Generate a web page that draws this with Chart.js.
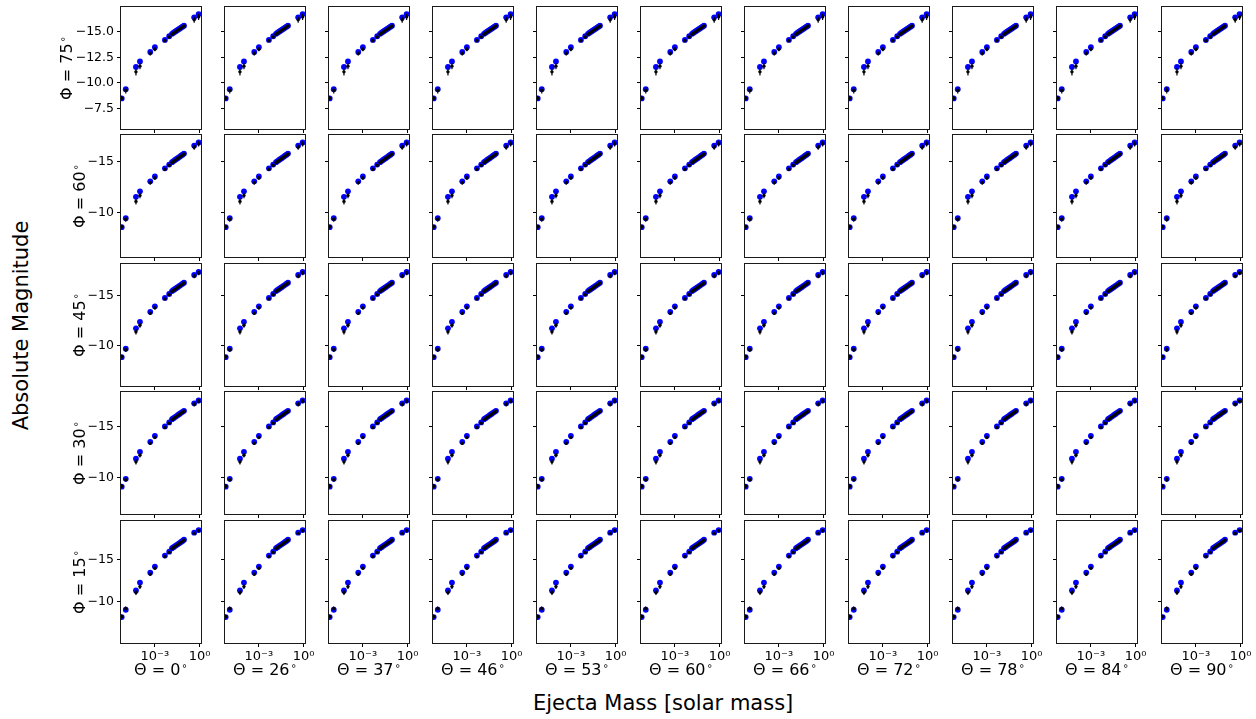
<!DOCTYPE html>
<html>
<head>
<meta charset="utf-8">
<script src="https://cdn.jsdelivr.net/npm/chart.js@4.4.1/dist/chart.umd.min.js"></script>
<style>
  html, body { margin: 0; padding: 0; background: #fff; }
  #fig { position: relative; width: 1256px; height: 719px; overflow: hidden; background: #fff; font-family: 'DejaVu Sans', sans-serif; color: #000; }
  #fig canvas { position: absolute; }
  .lbl { position: absolute; white-space: nowrap; line-height: 1; }
  .deg { font-size: 0.62em; position: relative; top: -0.62em; margin-left: 0.12em; }
</style>
</head>
<body>
<div id="fig"></div>
<script>
// ---------------- data ----------------
const thetaAngles = [0, 26, 37, 46, 53, 60, 66, 72, 78, 84, 90];
const phiAngles = [75, 60, 45, 30, 15];

// ejecta mass grid [solar mass]
const ejectaMass = [6.0e-6, 1.12e-5, 5.4e-5, 1.0e-4, 4.9e-4, 1.0e-3, 4.7e-3, 9.1e-3,
  0.0141, 0.0178, 0.0224, 0.0282, 0.0355, 0.0447, 0.0562, 0.0708, 0.0891, 0.43, 0.85];

// Phi = 75
const blueMag75  = [-8.47, -9.38, -11.57, -12.10, -13.04, -13.50, -14.22, -14.58, -14.82, -14.92, -15.02, -15.12, -15.22, -15.32, -15.42, -15.52, -15.62, -16.44, -16.76];
const blackMag75 = [-8.50, -9.26, -11.08, -11.64, -12.88, -13.30, -14.14, -14.50, -14.78, -14.88, -14.98, -15.08, -15.18, -15.28, -15.38, -15.48, -15.58, -16.20, -16.48];
const errMag75   = [0.15, 0.30, 0.35, 0.30, 0.20, 0.20, 0.12, 0.12, 0.08, 0.08, 0.08, 0.08, 0.08, 0.08, 0.08, 0.08, 0.08, 0.30, 0.30];
// Phi = 60
const blueMag60  = [-8.58, -9.46, -11.57, -12.11, -13.09, -13.58, -14.37, -14.74, -14.98, -15.09, -15.19, -15.30, -15.40, -15.50, -15.61, -15.71, -15.82, -16.61, -16.91];
const blackMag60 = [-8.62, -9.36, -11.12, -11.70, -12.95, -13.42, -14.28, -14.66, -14.94, -15.05, -15.15, -15.26, -15.36, -15.46, -15.57, -15.67, -15.78, -16.45, -16.78];
const errMag60   = [0.15, 0.25, 0.30, 0.28, 0.18, 0.18, 0.10, 0.10, 0.08, 0.08, 0.08, 0.08, 0.08, 0.08, 0.08, 0.08, 0.08, 0.25, 0.25];
// Phi = 45
const blueMag45  = [-8.85, -9.70, -11.75, -12.40, -13.40, -13.95, -14.80, -15.20, -15.48, -15.59, -15.69, -15.80, -15.90, -16.01, -16.11, -16.22, -16.33, -17.10, -17.40];
const blackMag45 = [-8.90, -9.60, -11.40, -12.05, -13.25, -13.80, -14.70, -15.12, -15.44, -15.55, -15.65, -15.76, -15.86, -15.97, -16.07, -16.18, -16.29, -16.98, -17.30];
const errMag45   = [0.15, 0.22, 0.28, 0.25, 0.16, 0.16, 0.10, 0.10, 0.08, 0.08, 0.08, 0.08, 0.08, 0.08, 0.08, 0.08, 0.08, 0.22, 0.22];
// Phi = 30
const blueMag30  = [-9.13, -9.90, -11.85, -12.52, -13.50, -14.08, -15.00, -15.39, -15.70, -15.80, -15.91, -16.01, -16.11, -16.21, -16.32, -16.42, -16.52, -17.25, -17.52];
const blackMag30 = [-9.18, -9.80, -11.55, -12.20, -13.35, -13.92, -14.90, -15.31, -15.66, -15.76, -15.87, -15.97, -16.07, -16.17, -16.28, -16.38, -16.48, -17.15, -17.45];
const errMag30   = [0.15, 0.20, 0.25, 0.22, 0.15, 0.15, 0.10, 0.10, 0.08, 0.08, 0.08, 0.08, 0.08, 0.08, 0.08, 0.08, 0.08, 0.20, 0.20];
// Phi = 15
const blueMag15  = [-8.19, -9.06, -11.34, -12.28, -13.46, -14.17, -15.47, -15.94, -16.34, -16.47, -16.60, -16.72, -16.84, -16.96, -17.08, -17.20, -17.35, -18.19, -18.50];
const blackMag15 = [-8.25, -9.20, -11.10, -11.80, -13.27, -13.98, -15.35, -15.85, -16.30, -16.43, -16.56, -16.68, -16.80, -16.92, -17.04, -17.16, -17.31, -18.10, -18.43];
const errMag15   = [0.15, 0.25, 0.30, 0.28, 0.18, 0.18, 0.12, 0.10, 0.08, 0.08, 0.08, 0.08, 0.08, 0.08, 0.08, 0.08, 0.08, 0.20, 0.20];

// axis ranges (top, bottom) and ticks
const yRange75 = [-17.45, -5.47];
const yRange60 = [-17.65, -5.65];
const yRange45 = [-18.20, -5.96];
const yRange30 = [-18.35, -6.47];
const yRange15 = [-19.57, -5.12];
const yTicks75 = [-15, -12.5, -10, -7.5];
const yTicksOther = [-15, -10];
const xRange = [Math.pow(10, -5.27), Math.pow(10, 0.09)];
const xTicks = [1e-3, 1];
const xTickLabels = ['10\u207B\u00B3', '10\u2070'];

// ---------------- layout ----------------
const rows = [
  { phi: phiAngles[0], blue: blueMag75, black: blackMag75, err: errMag75, yr: yRange75, yt: yTicks75, dec: 1 },
  { phi: phiAngles[1], blue: blueMag60, black: blackMag60, err: errMag60, yr: yRange60, yt: yTicksOther, dec: 0 },
  { phi: phiAngles[2], blue: blueMag45, black: blackMag45, err: errMag45, yr: yRange45, yt: yTicksOther, dec: 0 },
  { phi: phiAngles[3], blue: blueMag30, black: blackMag30, err: errMag30, yr: yRange30, yt: yTicksOther, dec: 0 },
  { phi: phiAngles[4], blue: blueMag15, black: blackMag15, err: errMag15, yr: yRange15, yt: yTicksOther, dec: 0 }
];

const PANEL_W = 80, PANEL_H = 122;
const AX_W = 50, AX_H = 30, PAD_T = 6, PAD_R = 16;
const colLeft = i => Math.round(120.5 + 104.1 * i);
const rowTop = j => Math.round(7 + 128.4 * j);

Chart.defaults.font.family = "'DejaVu Sans', sans-serif";
Chart.defaults.font.size = 12;
Chart.defaults.color = '#000';

const framePlugin = {
  id: 'frame',
  afterDraw(chart) {
    const a = chart.chartArea, ctx = chart.ctx;
    ctx.save();
    ctx.strokeStyle = '#1a1a1a';
    ctx.lineWidth = 1;
    ctx.strokeRect(a.left - 0.5, a.top - 0.5, a.right - a.left + 1, a.bottom - a.top + 1);
    ctx.restore();
  }
};

const fig = document.getElementById('fig');

function fmtY(v, dec) {
  return (v < 0 ? '\u2212' : '') + Math.abs(v).toFixed(dec);
}

rows.forEach((row, j) => {
  thetaAngles.forEach((theta, i) => {
    const cv = document.createElement('canvas');
    const W = AX_W + PANEL_W + PAD_R, H = PAD_T + PANEL_H + AX_H;
    cv.width = W; cv.height = H;
    cv.style.width = W + 'px'; cv.style.height = H + 'px';
    cv.style.left = (colLeft(i) - AX_W) + 'px';
    cv.style.top = (rowTop(j) - PAD_T) + 'px';
    fig.appendChild(cv);

    const bluePts = ejectaMass.map((m, k) => ({ x: m, y: row.blue[k] }));
    const blackPts = ejectaMass.map((m, k) => ({ x: m, y: row.black[k] }));
    const errPts = [];
    ejectaMass.forEach((m, k) => {
      errPts.push({ x: m, y: row.black[k] - row.err[k] });
      errPts.push({ x: m, y: row.black[k] + row.err[k] });
      errPts.push({ x: m, y: null });
    });

    const showYLabels = i === 0;
    const showXLabels = j === rows.length - 1;

    new Chart(cv, {
      type: 'scatter',
      data: {
        datasets: [
          { label: 'model', data: blackPts, order: 0, pointRadius: 1.7, pointBorderWidth: 0,
            pointBackgroundColor: '#000', backgroundColor: '#000', borderColor: '#000', clip: 0 },
          { label: 'err', data: errPts, order: 1, showLine: true, spanGaps: false, pointRadius: 0,
            borderColor: '#000', borderWidth: 1.2, clip: 0 },
          { label: 'fit', data: bluePts, order: 2, pointRadius: 2.9, pointBorderWidth: 0,
            pointBackgroundColor: '#0000ff', backgroundColor: '#0000ff', borderColor: '#0000ff', clip: 0 }
        ]
      },
      options: {
        responsive: false,
        animation: false,
        events: [],
        devicePixelRatio: 1,
        layout: { padding: { top: PAD_T, right: PAD_R, bottom: 0, left: 0 }, autoPadding: false },
        plugins: { legend: { display: false }, tooltip: { enabled: false } },
        scales: {
          x: {
            type: 'logarithmic',
            min: xRange[0], max: xRange[1],
            border: { display: false },
            grid: { display: true, drawOnChartArea: false, drawTicks: true, tickLength: 4, color: '#000', lineWidth: 1 },
            ticks: {
              padding: 2, maxRotation: 0, autoSkip: false,
              font: { size: 13 },
              callback: (v) => {
                if (!showXLabels) return '';
                const idx = xTicks.findIndex(t => Math.abs(Math.log10(t) - Math.log10(v)) < 1e-6);
                return idx >= 0 ? xTickLabels[idx] : '';
              }
            },
            afterBuildTicks: (ax) => { ax.ticks = xTicks.map(v => ({ value: v })); },
            afterFit: (ax) => { ax.height = AX_H; ax.paddingLeft = 0; ax.paddingRight = 0; }
          },
          y: {
            type: 'linear',
            reverse: true,
            min: row.yr[0], max: row.yr[1],
            border: { display: false },
            grid: { display: true, drawOnChartArea: false, drawTicks: true, tickLength: 4, color: '#000', lineWidth: 1 },
            ticks: {
              padding: 3, autoSkip: false,
              font: { size: 12.5 },
              callback: (v) => showYLabels ? fmtY(v, row.dec) : ''
            },
            afterBuildTicks: (ax) => { ax.ticks = row.yt.map(v => ({ value: v })); },
            afterFit: (ax) => { ax.width = AX_W; ax.paddingTop = 0; ax.paddingBottom = 0; }
          }
        }
      },
      plugins: [framePlugin]
    });
  });
});

// ---------------- text labels ----------------
function addLabel(html, cx, cy, size, rotate) {
  const d = document.createElement('div');
  d.className = 'lbl';
  d.innerHTML = html;
  d.style.fontSize = size + 'px';
  fig.appendChild(d);
  const w = d.offsetWidth, h = d.offsetHeight;
  d.style.left = (cx - w / 2) + 'px';
  d.style.top = (cy - h / 2) + 'px';
  if (rotate) d.style.transform = 'rotate(-90deg)';
}

rows.forEach((row, j) => {
  const cx = j === 0 ? 67 : 80;
  addLabel('\u03A6 = ' + row.phi + '<span class="deg">\u2218</span>', cx, rowTop(j) + PANEL_H / 2, 16, true);
});
thetaAngles.forEach((t, i) => {
  addLabel('\u0398 = ' + t + '<span class="deg">\u2218</span>', colLeft(i) + PANEL_W / 2, 670, 16, false);
});
addLabel('Absolute Magnitude', 22, 325, 21, true);
addLabel('Ejecta Mass [solar mass]', 663, 703, 21, false);
</script>
</body>
</html>
